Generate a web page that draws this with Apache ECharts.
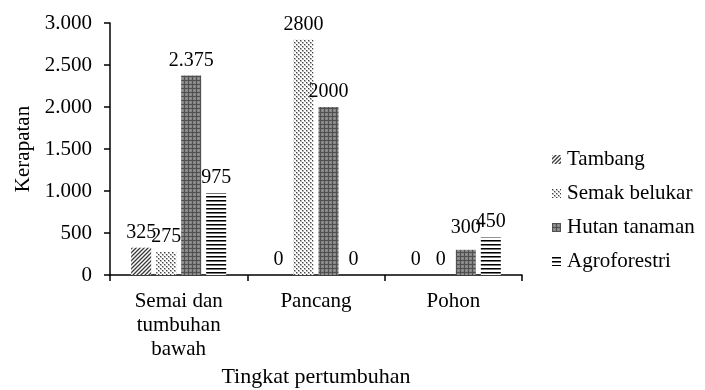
<!DOCTYPE html>
<html>
<head>
<meta charset="utf-8">
<script src="https://cdn.jsdelivr.net/npm/echarts@6/dist/echarts.min.js"></script>
<style>
html,body{margin:0;padding:0;background:#fff;}
#chart{width:705px;height:390px;}
</style>
</head>
<body>
<div id="chart"></div>
<script>
// ---- data ----
const categories = ['Semai dan\ntumbuhan\nbawah', 'Pancang', 'Pohon'];
const seriesNames = ['Tambang', 'Semak belukar', 'Hutan tanaman', 'Agroforestri'];
const tambang = [325, 0, 0];
const semakBelukar = [275, 2800, 0];
const hutanTanaman = [2375, 2000, 300];
const agroforestri = [975, 0, 450];
const yTicks = [0, 500, 1000, 1500, 2000, 2500, 3000];
const xAxisTitle = 'Tingkat pertumbuhan';
const yAxisTitle = 'Kerapatan';

// ---- patterns (style only) ----
function makeCanvas(w, h, draw) {
  const c = document.createElement('canvas');
  c.width = w; c.height = h;
  const ctx = c.getContext('2d');
  draw(ctx, w, h);
  return c;
}
const patTambang = makeCanvas(4, 4, (ctx, w, h) => {
  ctx.fillStyle = '#ffffff'; ctx.fillRect(0, 0, w, h);
  ctx.strokeStyle = '#3a3a3a'; ctx.lineWidth = 1.3;
  ctx.beginPath();
  ctx.moveTo(-1, h + 1); ctx.lineTo(w + 1, -1);
  ctx.moveTo(-1, 1); ctx.lineTo(1, -1);
  ctx.moveTo(w - 1, h + 1); ctx.lineTo(w + 1, h - 1);
  ctx.stroke();
});
const patSemak = makeCanvas(4, 4, (ctx, w, h) => {
  ctx.fillStyle = '#ffffff'; ctx.fillRect(0, 0, w, h);
  ctx.fillStyle = '#b8b8b8';
  ctx.fillRect(0, 0, 2, 2);
  ctx.fillRect(2, 2, 2, 2);
  ctx.fillStyle = '#404040';
  ctx.fillRect(0, 0, 1, 1);
  ctx.fillRect(2, 2, 1, 1);
});
const patHutan = makeCanvas(4, 4, (ctx, w, h) => {
  ctx.fillStyle = '#858585'; ctx.fillRect(0, 0, w, h);
  ctx.fillStyle = '#505050';
  ctx.fillRect(0, 0, w, 1);
  ctx.fillRect(0, 0, 1, h);
  ctx.fillStyle = '#a0a0a0';
  ctx.fillRect(2, 2, 1, 1);
});
const patAgro = makeCanvas(4, 4, (ctx, w, h) => {
  ctx.fillStyle = '#ffffff'; ctx.fillRect(0, 0, w, h);
  ctx.fillStyle = '#000000'; ctx.fillRect(0, 0, w, 1);
  ctx.fillStyle = '#777777'; ctx.fillRect(0, 1, w, 1);
});
const patterns = [patTambang, patSemak, patHutan, patAgro];

const FONT = 'Liberation Serif';
function dotThousands(v) {
  return String(v).replace(/\B(?=(\d{3})+(?!\d))/g, '.');
}

const dataSets = [tambang, semakBelukar, hutanTanaman, agroforestri];
const series = dataSets.map((arr, i) => ({
  name: seriesNames[i],
  type: 'bar',
  barWidth: 20,
  barGap: '25%',
  data: arr.map((v, j) => {
    const item = { value: v };
    if (i === 2 && j === 2) item.label = { offset: [0, -7] };
    return item;
  }),
  itemStyle: { color: { image: patterns[i], repeat: 'repeat' } },
  label: {
    show: true,
    position: 'top',
    distance: 5,
    color: '#000',
    fontFamily: FONT,
    fontSize: 20,
    formatter: p => (p.dataIndex === 0 ? dotThousands(p.value) : String(p.value))
  },
  emphasis: { disabled: true },
  animation: false
}));

const chart = echarts.init(document.getElementById('chart'), null, { renderer: 'canvas' });
chart.setOption({
  backgroundColor: '#ffffff',
  animation: false,
  textStyle: { fontFamily: FONT, color: '#000' },
  grid: { left: 110, right: 183, top: 23, bottom: 115, containLabel: false, outerBoundsMode: 'none' },
  legend: {
    orient: 'vertical',
    left: 547,
    top: 143,
    icon: 'rect',
    itemWidth: 9,
    itemHeight: 9,
    itemGap: 11,
    data: seriesNames,
    textStyle: { color: '#000', fontFamily: FONT, fontSize: 21, lineHeight: 23, padding: [0, 0, 0, 1] },
    selectedMode: false
  },
  xAxis: {
    type: 'category',
    data: categories,
    name: xAxisTitle,
    nameLocation: 'middle',
    nameGap: 91,
    nameTextStyle: { color: '#000', fontFamily: FONT, fontSize: 22 },
    axisLine: { lineStyle: { color: '#000', width: 1.5 } },
    axisTick: { show: true, length: 6, lineStyle: { color: '#000', width: 1.5 } },
    axisLabel: { color: '#000', fontFamily: FONT, fontSize: 21, lineHeight: 24, margin: 14, interval: 0 },
    splitLine: { show: false }
  },
  yAxis: {
    type: 'value',
    min: yTicks[0],
    max: yTicks[yTicks.length - 1],
    interval: yTicks[1] - yTicks[0],
    name: yAxisTitle,
    nameLocation: 'middle',
    nameRotate: 90,
    nameGap: 74,
    nameTextStyle: { color: '#000', fontFamily: FONT, fontSize: 21 },
    axisLine: { show: true, lineStyle: { color: '#000', width: 1.5 } },
    axisTick: { show: true, length: 6, lineStyle: { color: '#000', width: 1.5 } },
    axisLabel: { color: '#000', fontFamily: FONT, fontSize: 21, margin: 18, formatter: v => dotThousands(v) },
    splitLine: { show: false }
  },
  series: series
});
</script>
</body>
</html>
